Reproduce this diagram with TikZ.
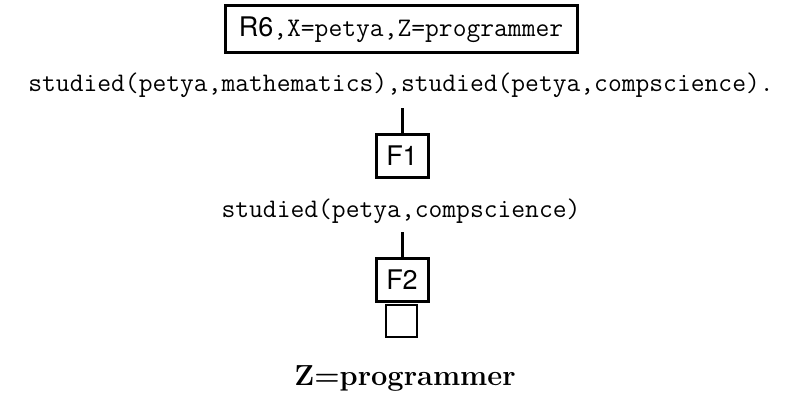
\documentclass[tikz,border=0pt]{standalone}
\usepackage{fontspec}
\newfontfamily\hv{TeX Gyre Heros}
\begin{document}
\begin{tikzpicture}[x=1pt,y=-1pt,
  ttlab/.style={font=\fontsize{26.8}{30}\selectfont\ttfamily, inner sep=0pt, anchor=base},
  fbox/.style={draw, line width=3pt, minimum width=52pt, minimum height=43pt, inner sep=0pt,
    font=\fontsize{27}{30}\selectfont\hv},
  conn/.style={line width=3pt}]
\useasboundingbox (0,0) rectangle (789,396);
\node[draw, line width=3pt, minimum width=352pt, minimum height=47pt, inner sep=0pt,
  font=\fontsize{26.8}{30}\selectfont] (rule) at (401,29.5)
  {{\fontsize{27}{30}\selectfont\hv R6}\ttfamily,X=petya,Z=programmer};
\node[ttlab] (g1) at (401,91) {studied(petya,mathematics),studied(petya,compscience).};
\node[fbox] (f1) at (402,155.5) {F1};
\coordinate (c1) at (402,108);
\draw[conn] (c1) -- (f1.north);
\node[ttlab] (g2) at (401,217) {studied(petya,compscience)};
\node[fbox] (f2) at (402,280) {F2};
\coordinate (c2) at (402,232);
\draw[conn] (c2) -- (f2.north);
\node[draw, line width=1.8pt, minimum width=31pt, minimum height=32pt, inner sep=0pt] (empty) at (401.5,321) {};
\node[anchor=base, inner sep=0pt, font=\fontsize{29}{32}\selectfont\bfseries] (ans) at (405,385) {Z=programmer};
\end{tikzpicture}
\end{document}
